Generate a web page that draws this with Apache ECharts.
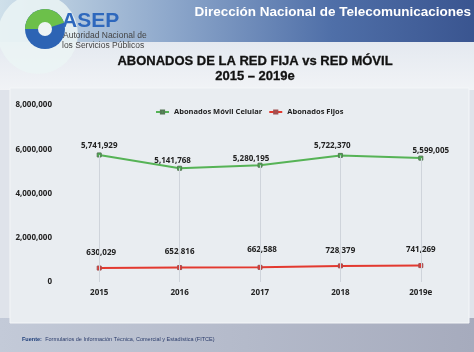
<!DOCTYPE html>
<html>
<head>
<meta charset="utf-8">
<script src="https://cdn.jsdelivr.net/npm/echarts@6/dist/echarts.min.js"></script>
<style>
  html, body { margin: 0; padding: 0; }
  #chart { width: 474px; height: 352px; }
</style>
</head>
<body>
<div id="chart"></div>
<script>
// datos
var years = ['2015', '2016', '2017', '2018', '2019e'];
var movil = [5741929, 5141768, 5280195, 5722370, 5599005];
var fijos = [630029, 652816, 662588, 728379, 741269];
var yTicks = [0, 2000000, 4000000, 6000000, 8000000];

// desplazamiento de etiquetas (px)
var movilOffsets = [[0, 0], [-7, 2], [-9, 3], [-8, 0], [10, 2]];
var fijosOffsets = [[2, 0], [0, 0], [2, -2], [0, 0], [0, 0]];

function fmt(v) {
  return v.toString().replace(/\B(?=(\d{3})+(?!\d))/g, ',');
}

var myChart = echarts.init(document.getElementById('chart'));

var option = {
  backgroundColor: '#dfe3ea',
  textStyle: { fontFamily: 'Open Sans' },
  graphic: [
    // fondo del encabezado
    { type: 'rect', x: 0, y: 0, z: -10, shape: { width: 474, height: 42 },
      style: { fill: new echarts.graphic.LinearGradient(0, 0, 1, 0, [
        { offset: 0, color: '#cfe0ea' }, { offset: 0.35, color: '#8fa9cc' },
        { offset: 0.7, color: '#4f6fa8' }, { offset: 1, color: '#3a5590' }]) } },
    { type: 'rect', x: 0, y: 42, z: -10, shape: { width: 474, height: 48 },
      style: { fill: new echarts.graphic.LinearGradient(0, 0, 0, 1, [
        { offset: 0, color: '#e4e9f0' }, { offset: 1, color: '#f1f3f6' }]) } },
    // pie
    { type: 'rect', x: 0, y: 318, z: -10, shape: { width: 474, height: 34 },
      style: { fill: new echarts.graphic.LinearGradient(0, 0, 1, 0, [
        { offset: 0, color: '#c3cad8' }, { offset: 1, color: '#a6abbd' }]) } },
    // panel del grafico
    { type: 'rect', x: 10, y: 88, z: -9, shape: { width: 459, height: 235 },
      style: { fill: '#e9edf1', stroke: '#f4f6f8', lineWidth: 1 } },
    // logo
    { type: 'circle', z: -5, shape: { cx: 38, cy: 34, r: 40 }, style: { fill: 'rgba(235,245,245,0.85)' } },
    { type: 'circle', z: -4, shape: { cx: 45, cy: 29, r: 20 }, style: { fill: '#2d64b4' } },
    { type: 'sector', z: -3, shape: { cx: 45, cy: 29, r: 20, r0: 0, startAngle: Math.PI, endAngle: Math.PI * 1.9 },
      style: { fill: '#6cc04a' } },
    { type: 'circle', z: -2, shape: { cx: 45, cy: 29, r: 7 }, style: { fill: '#eef4f4' } },
    { type: 'text', x: 62, y: 11, style: { text: 'ASEP', fill: '#2e68bd', font: 'bold 21px "Liberation Sans"' } },
    { type: 'text', x: 63, y: 31, style: { text: 'Autoridad Nacional de', fill: '#444', font: '8.5px "Liberation Sans"' } },
    { type: 'text', x: 62, y: 41, style: { text: 'los Servicios Públicos', fill: '#444', font: '8.5px "Liberation Sans"' } },
    // textos
    { type: 'text', x: 471, y: 5, style: { text: 'Dirección Nacional de Telecomunicaciones', fill: '#ffffff',
      font: 'bold 13.5px "Liberation Sans"', align: 'right' } },
    { type: 'text', x: 255, y: 55, style: { text: 'ABONADOS DE LA RED FIJA vs RED MÓVIL', fill: '#111',
      stroke: '#111', lineWidth: 0.3, font: 'bold 13px "Liberation Sans"', align: 'center' } },
    { type: 'text', x: 255, y: 70, style: { text: '2015 – 2019e', fill: '#111',
      stroke: '#111', lineWidth: 0.3, font: 'bold 13px "Liberation Sans"', align: 'center' } },
    { type: 'text', x: 22, y: 333, style: { rich: {
        a: { fill: '#1f3f7a', font: 'bold 5.5px "Liberation Sans"' },
        b: { fill: '#2a3b6a', font: '5.5px "Liberation Sans"' } },
      text: '{a|Fuente:} {b|Formularios de Información Técnica, Comercial y Estadística (FITCE)}' } }
  ],
  legend: {
    top: 103,
    left: 150,
    itemWidth: 13,
    itemHeight: 4,
    itemGap: 6,
    textStyle: { fontSize: 7.5, fontWeight: 'bold', color: '#222' },
    data: ['Abonados Móvil Celular', 'Abonados Fijos']
  },
  grid: { left: 59, right: 13, top: 105, bottom: 70 },
  xAxis: {
    type: 'category',
    data: years,
    axisLine: { show: false },
    axisTick: { show: false },
    axisLabel: { fontSize: 8, fontWeight: 'bold', color: '#222', margin: 7 }
  },
  yAxis: {
    type: 'value',
    min: yTicks[0],
    max: yTicks[yTicks.length - 1],
    interval: 2000000,
    axisLine: { show: false },
    axisTick: { show: false },
    splitLine: { show: false },
    axisLabel: { fontSize: 8, fontWeight: 'bold', color: '#222', margin: 7, formatter: fmt }
  },
  series: [
    {
      name: 'guias',
      type: 'line',
      data: [],
      z: 1,
      markLine: {
        silent: true,
        symbol: 'none',
        label: { show: false },
        lineStyle: { color: '#cfd4db', width: 1, type: 'solid' },
        data: years.map(function (y, i) {
          return [{ xAxis: y, yAxis: movil[i] }, { xAxis: y, yAxis: yTicks[0] }];
        })
      }
    },
    {
      name: 'Abonados Móvil Celular',
      type: 'line',
      data: movil.map(function (v, i) {
        return { value: v, label: { offset: movilOffsets[i] } };
      }),
      symbol: 'rect',
      symbolSize: 4,
      itemStyle: { color: '#4caf50', borderColor: '#557755', borderWidth: 1 },
      lineStyle: { color: '#56b356', width: 2 },
      label: { show: true, position: 'top', distance: 3, fontSize: 8, fontWeight: 'bold', color: '#222', formatter: function (p) { return fmt(p.value); } },
      z: 3
    },
    {
      name: 'Abonados Fijos',
      type: 'line',
      data: fijos.map(function (v, i) {
        return { value: v, label: { offset: fijosOffsets[i] } };
      }),
      symbol: 'rect',
      symbolSize: 4,
      itemStyle: { color: '#e53935', borderColor: '#a05050', borderWidth: 1 },
      lineStyle: { color: '#e3392f', width: 2 },
      label: { show: true, position: 'top', distance: 9, fontSize: 8, fontWeight: 'bold', color: '#222', formatter: function (p) { return fmt(p.value); } },
      z: 3
    }
  ]
};

myChart.setOption(option);
</script>
</body>
</html>
